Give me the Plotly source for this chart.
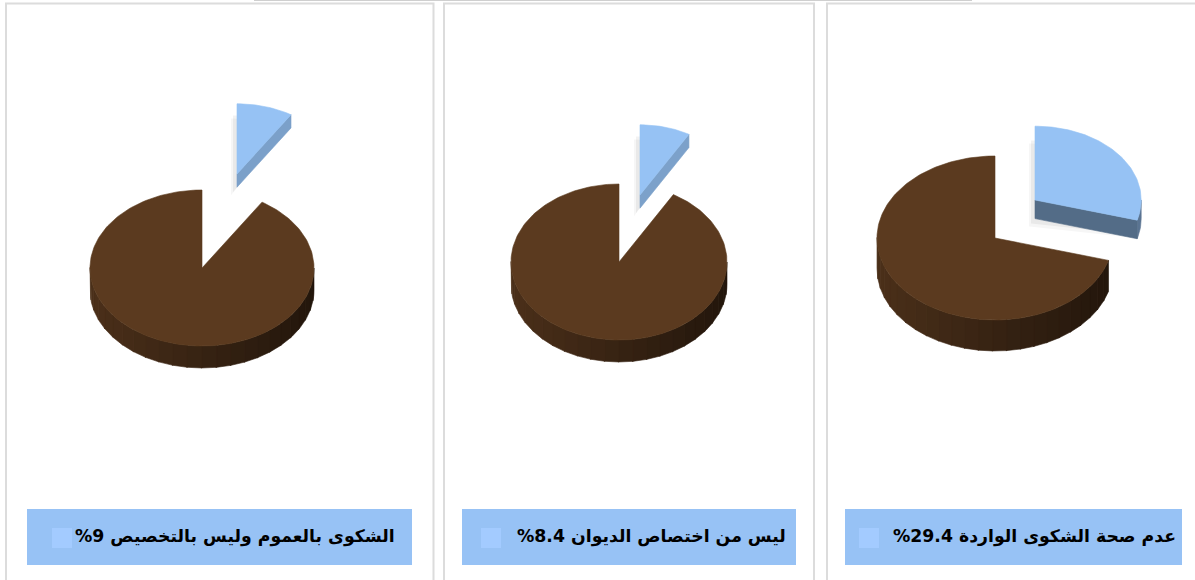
import math
import plotly.graph_objects as go

# ---------------- data ----------------
categories = ["عدم صحة الشكوى الواردة", "ليس من اختصاص الديوان", "الشكوى بالعموم وليس بالتخصيص"]
shares = [29.4, 8.4, 9.0]            # highlighted (exploded) slice, percent
label_values = ["%29.4", "%8.4", "%9"]
rest = [100 - s for s in shares]      # remaining part of each pie

# ---------------- layout / style constants ----------------
W, H = 1195, 580
# per panel (right -> left): centre x, centre y, radius x, radius y, depth, explode dx, explode dy
pie_geom = [
    dict(cx=995, cy=238, rx=118, ry=82, depth=31, ex=40, ey=-38),
    dict(cx=619, cy=262, rx=108, ry=78, depth=22, ex=21, ey=-67),
    dict(cx=202, cy=268, rx=112, ry=78, depth=22, ex=35, ey=-94),
]
EXPLODE_SCALE = 0.9      # exploded slice sits further back -> slightly smaller
EXPLODE_DEPTH = 0.6
frames = [(827, 1202), (444, 814), (6, 433.5)]
boxes = [(845, 1182), (462, 796), (27, 412)]
text_right = [1178, 788, 397]
square_left = [859, 481, 52]

BROWN = (91, 58, 31)
BLUE = (150, 194, 244)
BOX = "#97c2f5"
SQUARE = "#a3cbff"


def rgb(c, f=1.0):
    return "rgb(%d,%d,%d)" % tuple(max(0, min(255, int(round(v * f)))) for v in c)


def pt(g, th, ox=0, oy=0, dz=0, s=1.0):
    a = math.radians(th)
    return (g["cx"] + ox + s * g["rx"] * math.sin(a), g["cy"] + oy - s * g["ry"] * math.cos(a) + dz)


def arc(g, t0, t1, ox=0, oy=0, dz=0, s=1.0):
    n = max(2, int(abs(t1 - t0) / 1.5) + 1)
    return [pt(g, t0 + (t1 - t0) * i / (n - 1), ox, oy, dz, s) for i in range(n)]


fig = go.Figure()


def poly(points, color, lw=0.6):
    xs = [p[0] for p in points] + [points[0][0]]
    ys = [p[1] for p in points] + [points[0][1]]
    fig.add_trace(go.Scatter(x=xs, y=ys, mode="lines", fill="toself", fillcolor=color,
                             line=dict(color=color, width=lw), hoverinfo="skip",
                             showlegend=False))


for i, g in enumerate(pie_geom):
    total = shares[i] + rest[i]
    t_end = 360.0 * shares[i] / total     # highlighted slice: 0 -> t_end (clockwise from 12 o'clock)
    ox, oy = g["ex"], g["ey"]
    s = EXPLODE_SCALE
    d = g["depth"] * EXPLODE_DEPTH
    centre = (g["cx"] + ox, g["cy"] + oy)

    # --- soft shadow behind the exploded slice ---
    for k, (sx, sy, a) in enumerate([(-6, 8, 0.035), (-4, 5, 0.05)]):
        poly([(centre[0] + sx, centre[1] + sy + d)] +
             arc(g, 0, t_end, ox + sx, oy + sy, d * 0.5, s), "rgba(0,0,0,%.3f)" % a, 0)

    # --- highlighted (blue) slice, exploded ---
    lo, hi = 90, min(t_end, 270)
    if hi > lo:
        top = arc(g, lo, hi, ox, oy, 0, s)
        bot = arc(g, hi, lo, ox, oy, d, s)
        poly(top + bot, rgb(BLUE, 0.6))
    n_ang = math.radians(t_end + 90)
    f = 0.62 + 0.24 * math.sin(n_ang)
    e = pt(g, t_end, ox, oy, 0, s)
    poly([centre, e, (e[0], e[1] + d), (centre[0], centre[1] + d)], rgb(BLUE, f))
    poly([centre] + arc(g, 0, t_end, ox, oy, 0, s), rgb(BLUE))

    # --- remaining (brown) part ---
    d = g["depth"]
    lo, hi = max(t_end, 90), 270
    steps = 24
    for k in range(steps):
        a0 = lo + (hi - lo) * k / steps
        a1 = lo + (hi - lo) * (k + 1) / steps + 0.4
        fm = 0.6 - 0.22 * math.sin(math.radians((a0 + a1) / 2))
        poly(arc(g, a0, a1) + arc(g, a1, a0, dz=d), rgb(BROWN, fm))
    poly([(g["cx"], g["cy"])] + arc(g, t_end, 360), rgb(BROWN))

shapes = []
shapes.append(dict(type="line", x0=254, x1=972, y0=0.5, y1=0.5, line=dict(color="#cfcfcf", width=1)))
for (x0, x1) in frames:
    shapes.append(dict(type="rect", x0=x0, x1=x1, y0=3.5, y1=600, line=dict(color="#dcdcdc", width=2),
                       fillcolor="rgba(0,0,0,0)", layer="below"))
for i, (x0, x1) in enumerate(boxes):
    shapes.append(dict(type="rect", x0=x0, x1=x1, y0=509, y1=565, line=dict(width=0), fillcolor=BOX))
    sq = square_left[i]
    shapes.append(dict(type="rect", x0=sq, x1=sq + 20, y0=528, y1=548, line=dict(width=0), fillcolor=SQUARE))

annotations = []
for i in range(3):
    annotations.append(dict(
        x=text_right[i], y=536, xref="x", yref="y", xanchor="right", yanchor="middle",
        text=label_values[i] + " " + categories[i],
        showarrow=False, font=dict(family="DejaVu Sans", size=17.3, color="black", weight="bold")))

fig.update_layout(
    width=W, height=H, margin=dict(l=0, r=0, t=0, b=0),
    paper_bgcolor="white", plot_bgcolor="white",
    xaxis=dict(range=[0, W], visible=False, fixedrange=True),
    yaxis=dict(range=[H, 0], visible=False, fixedrange=True),
    shapes=shapes, annotations=annotations, showlegend=False,
)

fig.write_html("out.html", config={"displayModeBar": False})
